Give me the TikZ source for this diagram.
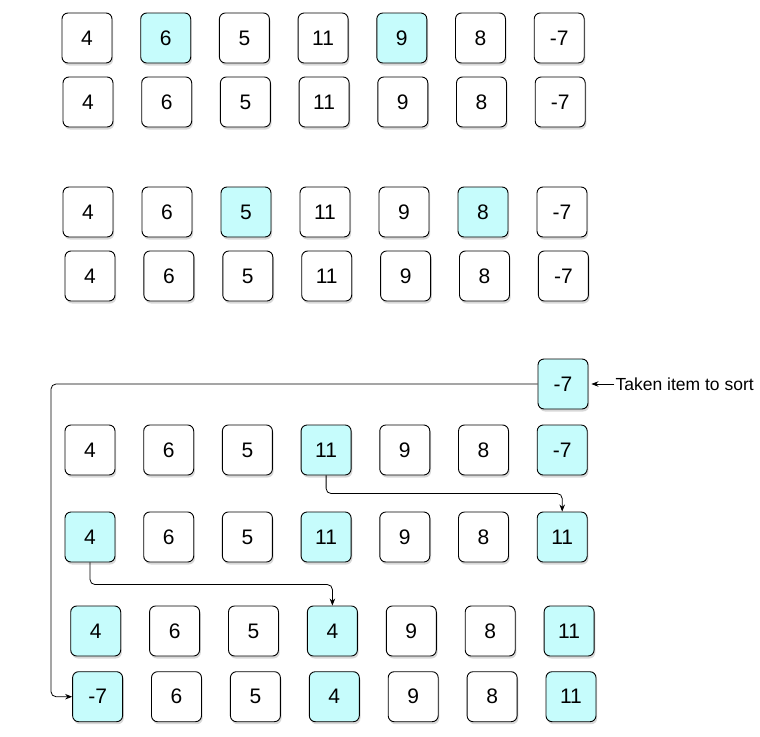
\documentclass[tikz,border=0pt]{standalone}
\usepackage{fontspec}
\setmainfont{Liberation Sans}
\usetikzlibrary{calc,arrows,arrows.meta,shadows,positioning}
\definecolor{pick}{HTML}{C6FCFC}
\tikzset{
  cell/.style={draw, rounded corners=6pt, minimum width=50pt, minimum height=50pt,
    inner sep=0pt, line width=0.9pt, font=\fontsize{21}{24}\selectfont,
    drop shadow={shadow xshift=1.2pt, shadow yshift=-2.5pt, opacity=0.22, fill=black!70}},
  hot/.style={cell, fill=pick},
  cold/.style={cell, fill=white},
  link/.style={->, >={Stealth[length=7pt,width=5.5pt]}, line width=0.8pt, rounded corners=5pt},
  note/.style={inner sep=1pt, font=\fontsize{17.5}{20}\selectfont},
}

\begin{document}
\begin{tikzpicture}[x=1pt,y=-1pt]
\useasboundingbox (0,0) rectangle (760,736);

% first pass
\foreach \v/\s [count=\i] in {4/cold,6/hot,5/cold,11/cold,9/hot,8/cold,-7/cold}
  \node[\s] (r1-\i) at ({87+78.7*(\i-1)},38) {\v};
\foreach \v/\s [count=\i] in {4/cold,6/cold,5/cold,11/cold,9/cold,8/cold,-7/cold}
  \node[\s] (r2-\i) at ({88+78.7*(\i-1)},102) {\v};

% second pass
\foreach \v/\s [count=\i] in {4/cold,6/cold,5/hot,11/cold,9/cold,8/hot,-7/cold}
  \node[\s] (r3-\i) at ({88+79*(\i-1)},212) {\v};
\foreach \v/\s [count=\i] in {4/cold,6/cold,5/cold,11/cold,9/cold,8/cold,-7/cold}
  \node[\s] (r4-\i) at ({90+78.9*(\i-1)},276) {\v};

% insertion of the taken item
\node[hot] (take) at (563,384) {-7};
\node[note, right=26pt of take, anchor=west] (lbl) {Taken item to sort};

\foreach \v/\s [count=\i] in {4/cold,6/cold,5/cold,11/hot,9/cold,8/cold,-7/hot}
  \node[\s] (r5-\i) at ({90+78.7*(\i-1)},450) {\v};
\foreach \v/\s [count=\i] in {4/hot,6/cold,5/cold,11/hot,9/cold,8/cold,11/hot}
  \node[\s] (r6-\i) at ({90+78.7*(\i-1)},537) {\v};
\foreach \v/\s [count=\i] in {4/hot,6/cold,5/cold,4/hot,9/cold,8/cold,11/hot}
  \node[\s] (r7-\i) at ({95.7+78.9*(\i-1)},631) {\v};
\foreach \v/\s [count=\i] in {-7/hot,6/cold,5/cold,4/hot,9/cold,8/cold,11/hot}
  \node[\s] (r8-\i) at ({97.6+78.9*(\i-1)},696.7) {\v};

\coordinate (lft) at (51,384);

\draw[link, shorten >=3pt] (lbl.west)--(take.east);
\draw[link] (take.west) -- (lft) |- (r8-1.west);
\draw[link] (r5-4.south) |- ($(r6-7.north)+(0,-18)$) -- (r6-7.north);
\draw[link] (r6-1.south) |- ($(r7-4.north)+(0,-21)$) -- (r7-4.north);
\end{tikzpicture}
\end{document}
